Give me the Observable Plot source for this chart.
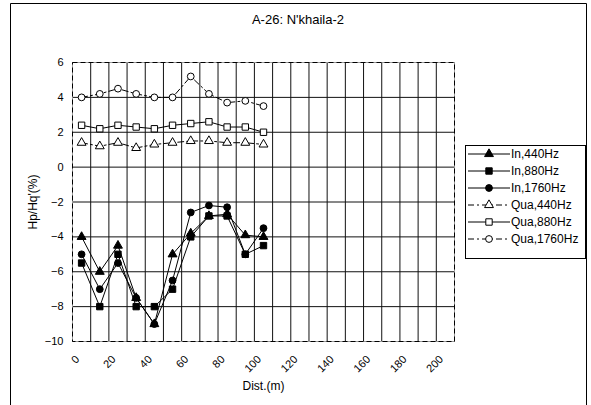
<!DOCTYPE html>
<html>
<head>
<meta charset="utf-8">
<script src="https://cdn.jsdelivr.net/npm/d3@7"></script>
<script src="https://cdn.jsdelivr.net/npm/@observablehq/plot@0.6"></script>
<style>
  body { margin: 0; background: #fff; }
  #chart { position: relative; width: 591px; height: 405px; }
</style>
</head>
<body>
<div id="chart"></div>
<script>
const title = "A-26: N'khaila-2";
const xLabel = "Dist.(m)";
const yLabel = "Hp/Hq'(%)";
const dist = [5, 15, 25, 35, 45, 55, 65, 75, 85, 95, 105];
const in440 = [-4, -6, -4.5, -7.5, -9, -5, -3.8, -2.8, -2.7, -3.9, -4];
const in880 = [-5.5, -8, -5, -8, -8, -7, -4, -2.8, -2.8, -5, -4.5];
const in1760 = [-5, -7, -5.5, -7.5, -9, -6.5, -2.6, -2.2, -2.3, -5, -3.5];
const qua440 = [1.4, 1.2, 1.4, 1.1, 1.3, 1.4, 1.5, 1.5, 1.4, 1.4, 1.3];
const qua880 = [2.4, 2.2, 2.4, 2.3, 2.2, 2.4, 2.5, 2.6, 2.3, 2.3, 2.0];
const qua1760 = [4.0, 4.2, 4.5, 4.2, 4.0, 4.0, 5.2, 4.2, 3.7, 3.8, 3.5];
const xTicks = [0, 20, 40, 60, 80, 100, 120, 140, 160, 180, 200];
const yTicks = [-10, -8, -6, -4, -2, 0, 2, 4, 6];

const seriesDefs = [
  {name: "In,440Hz", values: in440, symbol: "triangle", fill: "#000", dash: null},
  {name: "In,880Hz", values: in880, symbol: "square", fill: "#000", dash: null},
  {name: "In,1760Hz", values: in1760, symbol: "circle", fill: "#000", dash: null},
  {name: "Qua,440Hz", values: qua440, symbol: "triangle", fill: "#fff", dash: "6,3,2,3"},
  {name: "Qua,880Hz", values: qua880, symbol: "square", fill: "#fff", dash: null},
  {name: "Qua,1760Hz", values: qua1760, symbol: "circle", fill: "#fff", dash: "6,3,2,3"}
];
const rSym = {triangle: 3.3, square: 3.6, circle: 3.4};
const font = "'Liberation Sans', Arial, sans-serif";

const marks = [
  Plot.gridX(d3.range(10, 201, 10), {stroke: "#111", strokeOpacity: 1, strokeWidth: 1}),
  Plot.gridY([-8, -6, -4, -2, 0, 2, 4], {stroke: "#111", strokeOpacity: 1, strokeWidth: 1}),
  Plot.frame({stroke: "#999"}),
  Plot.frame({stroke: "#000", strokeDasharray: "5,3"}),
  Plot.axisY({ticks: yTicks, tickSize: 0, tickPadding: 9, label: null}),
  Plot.axisY({ticks: [], tickSize: 0, label: yLabel, labelAnchor: "center", labelArrow: "none", labelOffset: 44, fontSize: 12}),
  Plot.axisX({ticks: xTicks, tickSize: 0, tickPadding: 16, dx: 5, tickRotate: -45, label: null}),
  Plot.axisX({ticks: [], tickSize: 0, label: xLabel, labelAnchor: "center", labelArrow: "none", labelOffset: 48, fontSize: 12})
];
for (const s of [...seriesDefs.slice(3), ...seriesDefs.slice(0, 3)]) {
  const rows = dist.map((d, i) => ({x: d, y: s.values[i]}));
  marks.push(Plot.line(rows, {x: "x", y: "y", stroke: "#000", strokeWidth: 1, strokeDasharray: s.dash || undefined}));
  marks.push(Plot.dot(rows, {x: "x", y: "y", symbol: s.symbol, r: rSym[s.symbol], fill: s.fill, stroke: "#000", strokeWidth: 1}));
}

const plot = Plot.plot({
  width: 591, height: 405,
  marginLeft: 72, marginRight: 137, marginTop: 62, marginBottom: 64,
  x: {domain: [0, 210]},
  y: {domain: [-10, 6]},
  style: {fontFamily: font, fontSize: "11px", color: "#000", background: "#fff"},
  marks
});
document.getElementById("chart").appendChild(plot);

const svg = d3.select(plot);
// outer chart border
svg.append("path").attr("d", "M10.5,410V3.5H586.5V410").attr("fill", "none").attr("stroke", "#000");
// title
svg.append("text").attr("x", 298).attr("y", 24).attr("text-anchor", "middle")
  .style("font-size", "13px").style("font-family", font).text(title);
// legend
const lg = svg.append("g").attr("text-anchor", "start");
lg.append("rect").attr("x", 465.5).attr("y", 145.5).attr("width", 120).attr("height", 113)
  .attr("fill", "#fff").attr("stroke", "#000");
seriesDefs.forEach((s, i) => {
  const y = 154 + i * 17;
  lg.append("line").attr("x1", 468).attr("x2", 510).attr("y1", y).attr("y2", y)
    .attr("stroke", "#000").attr("stroke-dasharray", s.dash);
  const sym = {triangle: d3.symbolTriangle, square: d3.symbolSquare, circle: d3.symbolCircle}[s.symbol];
  lg.append("path").attr("transform", `translate(489,${y})`)
    .attr("d", d3.symbol(sym, Math.PI * rSym[s.symbol] ** 2)())
    .attr("fill", s.fill).attr("stroke", "#000");
  lg.append("text").attr("x", 511).attr("y", y).attr("dy", "0.35em").attr("text-anchor", "start")
    .style("font-size", "12px").style("font-family", font).text(s.name);
});
</script>
</body>
</html>
